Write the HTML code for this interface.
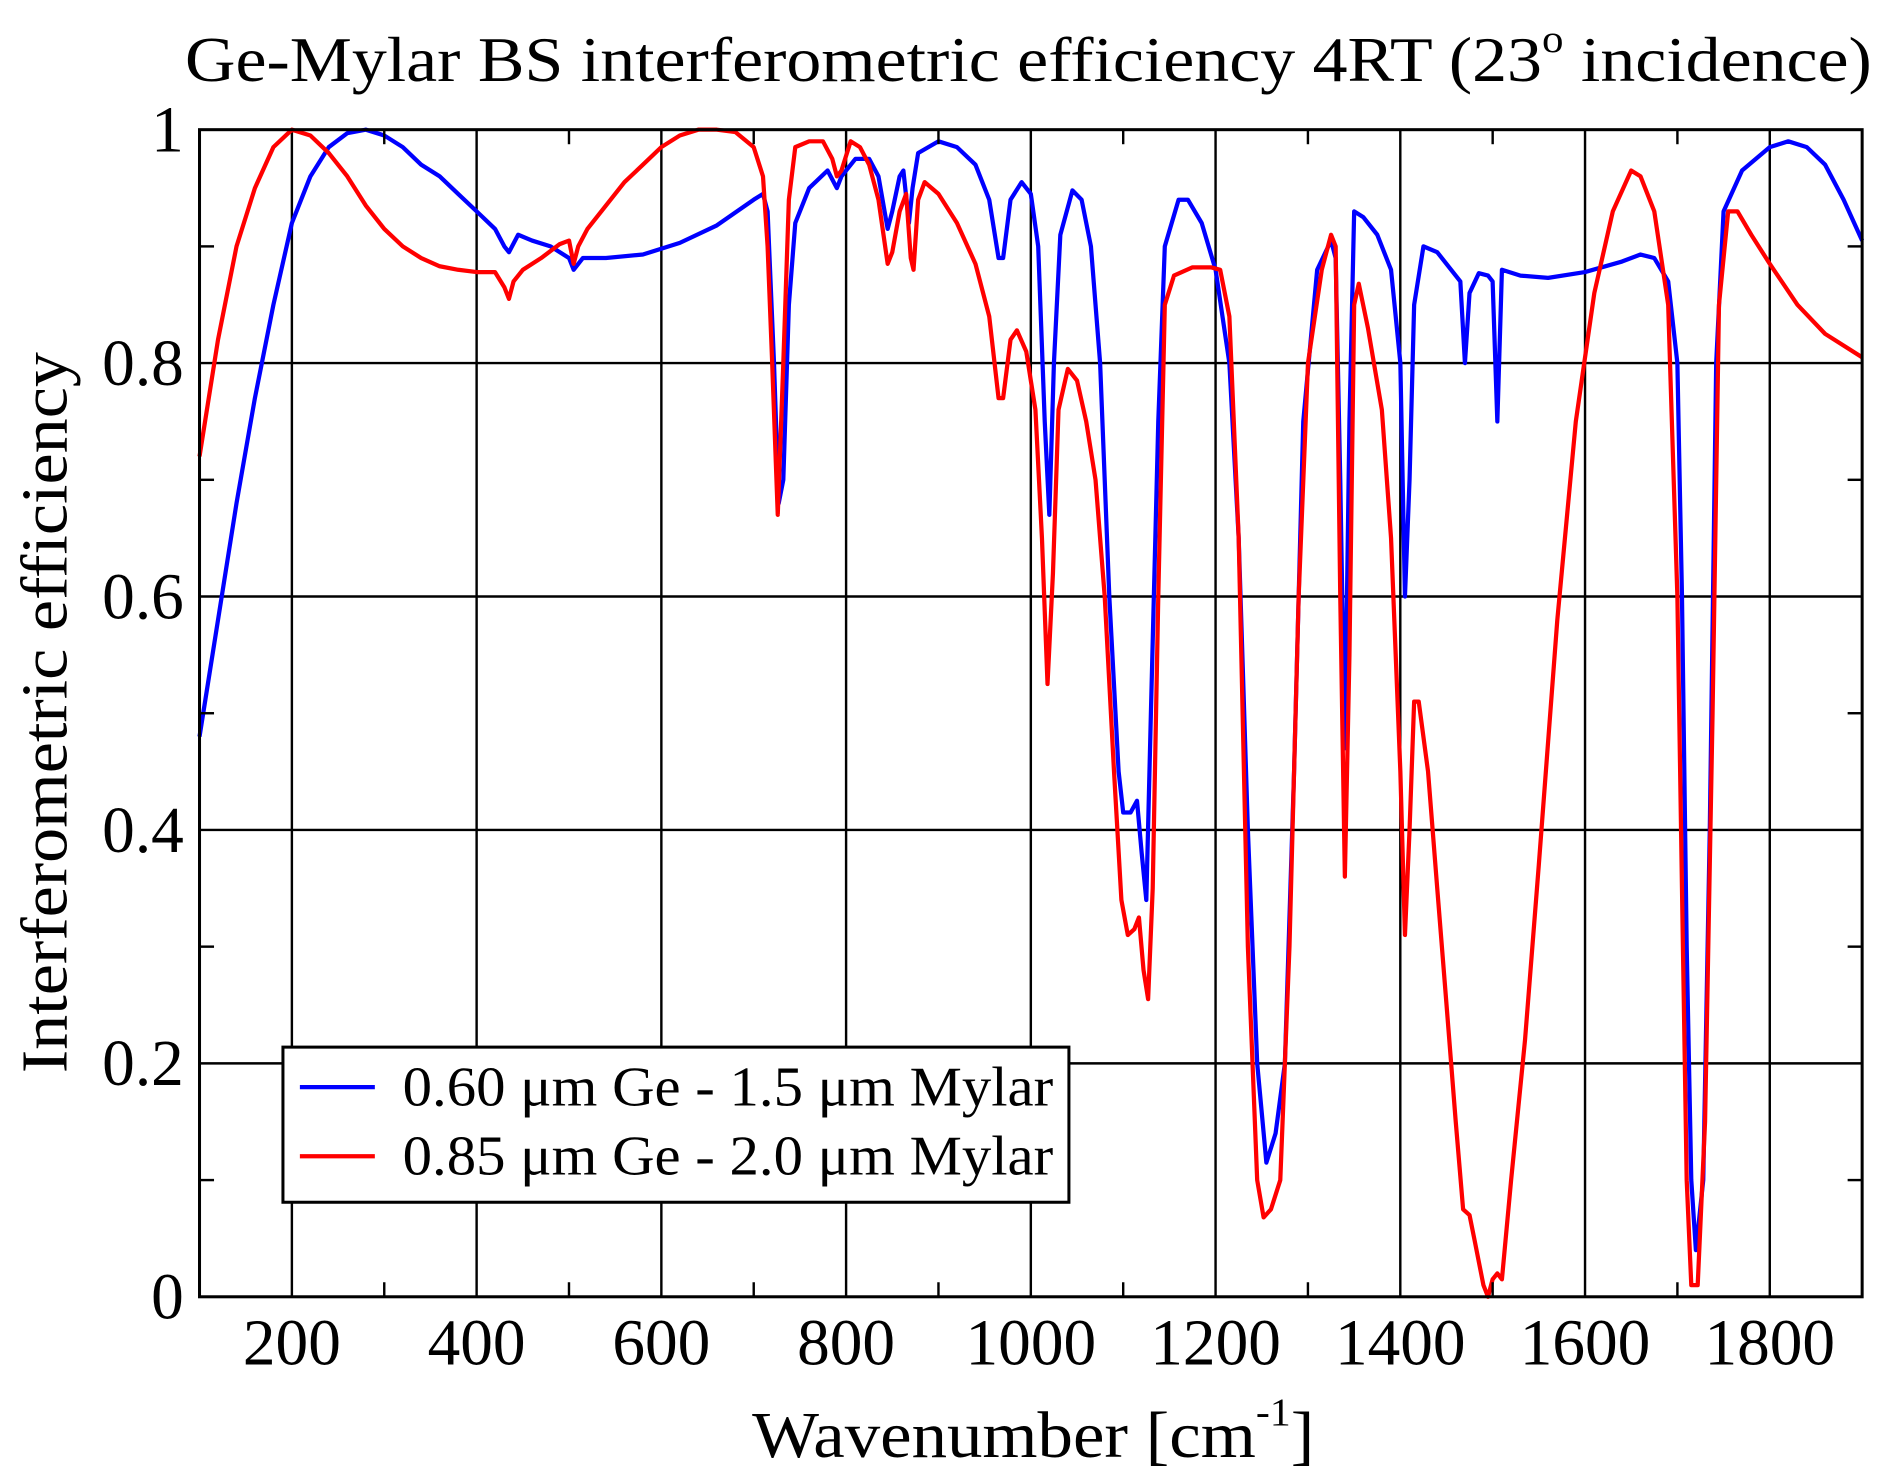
<!DOCTYPE html>
<html><head><meta charset="utf-8"><style>
html,body{margin:0;padding:0;background:#fff;}
svg{display:block;}
text{font-family:"Liberation Serif",serif;fill:#000;}
</style></head><body>
<svg id="chart" width="1896" height="1481" viewBox="0 0 1568 1222" preserveAspectRatio="none" xmlns="http://www.w3.org/2000/svg">
<text x="153" y="67" font-size="52" textLength="1395" lengthAdjust="spacingAndGlyphs">Ge-Mylar BS interferometric efficiency 4RT (23<tspan dy="-24" font-size="32">o</tspan><tspan dy="24"> incidence)</tspan></text>
<g id="grid"></g>
<g id="series"></g>
<rect x="165" y="107" width="1375" height="963" fill="none" stroke="#000" stroke-width="2.5"/>
<g id="ticks"></g>
<text x="622" y="1202" font-size="54" textLength="465" lengthAdjust="spacingAndGlyphs">Wavenumber [cm<tspan dy="-26" font-size="32">-1</tspan><tspan dy="26">]</tspan></text>
<text transform="translate(55,588) rotate(-90)" text-anchor="middle" font-size="54" textLength="595" lengthAdjust="spacingAndGlyphs">Interferometric efficiency</text>
<g>
<rect x="234" y="864" width="650" height="128" fill="#fff" stroke="#000" stroke-width="2.5"/>
<line x1="248" y1="897" x2="310" y2="897" stroke="#0000ff" stroke-width="3.5"/>
<text x="333" y="912" font-size="46" textLength="538" lengthAdjust="spacingAndGlyphs">0.60 μm Ge - 1.5 μm Mylar</text>
<line x1="248" y1="954" x2="310" y2="954" stroke="#ff0000" stroke-width="3.5"/>
<text x="333" y="969" font-size="46" textLength="538" lengthAdjust="spacingAndGlyphs">0.85 μm Ge - 2.0 μm Mylar</text>
</g>
</svg>
<script>
const xTicks=[200,400,600,800,1000,1200,1400,1600,1800];
const yTicks=[0,0.2,0.4,0.6,0.8,1];
const yTickLabels=["0","0.2","0.4","0.6","0.8","1"];
const blueX=[100,120,140,160,180,200,220,240,260,280,300,320,340,360,380,400,420,430,435,445,460,480,500,505,515,540,580,620,660,700,710,715,722,727,732,738,745,760,780,790,795,810,825,835,845,850,858,862,868,872,878,900,920,940,955,965,970,978,990,1000,1008,1015,1020,1025,1032,1045,1055,1065,1075,1085,1095,1100,1108,1115,1120,1125,1130,1138,1145,1160,1170,1185,1200,1215,1225,1235,1245,1255,1265,1275,1285,1295,1310,1325,1330,1335,1340,1345,1350,1360,1375,1390,1400,1405,1410,1415,1425,1440,1455,1465,1470,1475,1485,1495,1500,1505,1510,1530,1560,1600,1640,1660,1675,1690,1700,1705,1710,1715,1720,1728,1735,1742,1750,1770,1800,1820,1840,1860,1880,1900];
const blueY=[0.48,0.58,0.68,0.77,0.85,0.92,0.96,0.985,0.997,1.0,0.995,0.985,0.97,0.96,0.945,0.93,0.915,0.9,0.895,0.91,0.905,0.9,0.89,0.88,0.89,0.89,0.893,0.903,0.918,0.94,0.945,0.93,0.8,0.68,0.7,0.85,0.92,0.95,0.965,0.95,0.96,0.975,0.975,0.96,0.915,0.93,0.96,0.965,0.92,0.95,0.98,0.99,0.985,0.97,0.94,0.89,0.89,0.94,0.955,0.945,0.9,0.75,0.67,0.8,0.91,0.948,0.94,0.9,0.8,0.6,0.45,0.415,0.415,0.425,0.38,0.34,0.5,0.75,0.9,0.94,0.94,0.92,0.88,0.8,0.65,0.4,0.2,0.115,0.14,0.2,0.45,0.75,0.88,0.905,0.89,0.7,0.47,0.75,0.93,0.925,0.91,0.88,0.8,0.6,0.7,0.85,0.9,0.895,0.88,0.87,0.8,0.86,0.877,0.875,0.87,0.75,0.88,0.875,0.873,0.878,0.887,0.893,0.89,0.87,0.8,0.6,0.3,0.1,0.04,0.1,0.4,0.8,0.93,0.965,0.985,0.99,0.985,0.97,0.94,0.905];
const redX=[100,120,140,160,180,200,220,240,260,280,300,320,340,360,380,400,420,430,435,440,450,470,490,500,505,510,520,540,560,580,600,620,640,660,680,700,710,715,720,726,732,738,745,760,775,785,790,795,805,815,825,835,845,850,858,865,870,873,878,885,900,920,940,955,965,970,978,985,995,1005,1012,1018,1024,1030,1040,1050,1060,1070,1080,1090,1098,1105,1112,1117,1122,1127,1132,1138,1145,1155,1175,1195,1205,1215,1225,1235,1245,1252,1260,1270,1280,1290,1300,1315,1325,1330,1335,1340,1345,1350,1355,1365,1380,1390,1400,1405,1410,1415,1420,1430,1440,1450,1460,1468,1475,1480,1490,1495,1500,1505,1510,1520,1535,1550,1570,1590,1610,1630,1650,1660,1675,1690,1700,1705,1710,1715,1722,1730,1738,1745,1755,1765,1780,1800,1830,1860,1900];
const redY=[0.72,0.82,0.9,0.95,0.985,1.0,0.995,0.98,0.96,0.935,0.915,0.9,0.89,0.883,0.88,0.878,0.878,0.865,0.855,0.87,0.88,0.89,0.902,0.905,0.885,0.9,0.915,0.935,0.955,0.97,0.985,0.995,1.0,1.0,0.998,0.985,0.96,0.9,0.8,0.67,0.8,0.94,0.985,0.99,0.99,0.975,0.96,0.965,0.99,0.985,0.97,0.94,0.885,0.895,0.93,0.945,0.89,0.88,0.94,0.955,0.945,0.92,0.885,0.84,0.77,0.77,0.82,0.828,0.81,0.76,0.65,0.525,0.62,0.76,0.795,0.785,0.75,0.7,0.6,0.45,0.34,0.31,0.315,0.325,0.28,0.255,0.35,0.6,0.85,0.875,0.882,0.882,0.88,0.84,0.65,0.3,0.1,0.068,0.075,0.1,0.3,0.6,0.8,0.88,0.91,0.9,0.6,0.36,0.55,0.85,0.868,0.83,0.76,0.65,0.45,0.31,0.4,0.51,0.51,0.45,0.35,0.25,0.15,0.075,0.07,0.05,0.01,0.0,0.015,0.02,0.015,0.1,0.22,0.37,0.58,0.75,0.86,0.93,0.965,0.96,0.93,0.85,0.6,0.35,0.1,0.01,0.01,0.15,0.5,0.85,0.93,0.93,0.91,0.885,0.85,0.825,0.805];

const NS="http://www.w3.org/2000/svg";
const L=165,R=1540,T=107,B=1070;
function sx(v){return L+(v-100)/1800*(R-L);}
function sy(v){return B-v*(B-T);}
function mk(tag,attrs,parent){const e=document.createElementNS(NS,tag);for(const k in attrs)e.setAttribute(k,attrs[k]);parent.appendChild(e);return e;}
const grid=document.getElementById('grid'),ticks=document.getElementById('ticks'),series=document.getElementById('series');
xTicks.forEach(v=>{
  const g=mk('line',{x1:sx(v),x2:sx(v),y1:T,y2:B,stroke:'#000','stroke-width':2},grid);
  
  
  const t=mk('text',{x:sx(v),y:1126,'text-anchor':'middle','font-size':54},ticks);
  t.textContent=String(v);
  
  
});
for(let v=100;v<=1900;v+=200){
  if(v===100||v===1900)continue;
  const a=mk('line',{x1:sx(v),x2:sx(v),y1:B,y2:B-12,stroke:'#000','stroke-width':2},ticks);
  
  
  const b=mk('line',{x1:sx(v),x2:sx(v),y1:T,y2:T+12,stroke:'#000','stroke-width':2},ticks);
  
  
}
yTicks.forEach((v,i)=>{
  if(v>0&&v<1){
    const g=mk('line',{x1:L,x2:R,y1:sy(v),y2:sy(v),stroke:'#000','stroke-width':2},grid);
    
    
  }
  const t=mk('text',{x:152,y:sy(v)+18,'text-anchor':'end','font-size':54},ticks);
  t.textContent=yTickLabels[i];
  
  
});
for(let v=0.1;v<1;v+=0.2){
  const a=mk('line',{x1:L,x2:L+12,y1:sy(v),y2:sy(v),stroke:'#000','stroke-width':2},ticks);
  
  
  const b=mk('line',{x1:R,x2:R-12,y1:sy(v),y2:sy(v),stroke:'#000','stroke-width':2},ticks);
  
  
}
function draw(xs,ys,color,name){
  const d=xs.map((x,i)=>(i?'L':'M')+sx(x).toFixed(1)+','+sy(ys[i]).toFixed(1)).join('');
  const p=mk('path',{d:d,fill:'none',stroke:color,'stroke-width':3.5,'stroke-linejoin':'round'},series);
  
  
}
draw(blueX,blueY,'#0000ff','series-blue-0.60um-ge');
draw(redX,redY,'#ff0000','series-red-0.85um-ge');
</script>
</body></html>
